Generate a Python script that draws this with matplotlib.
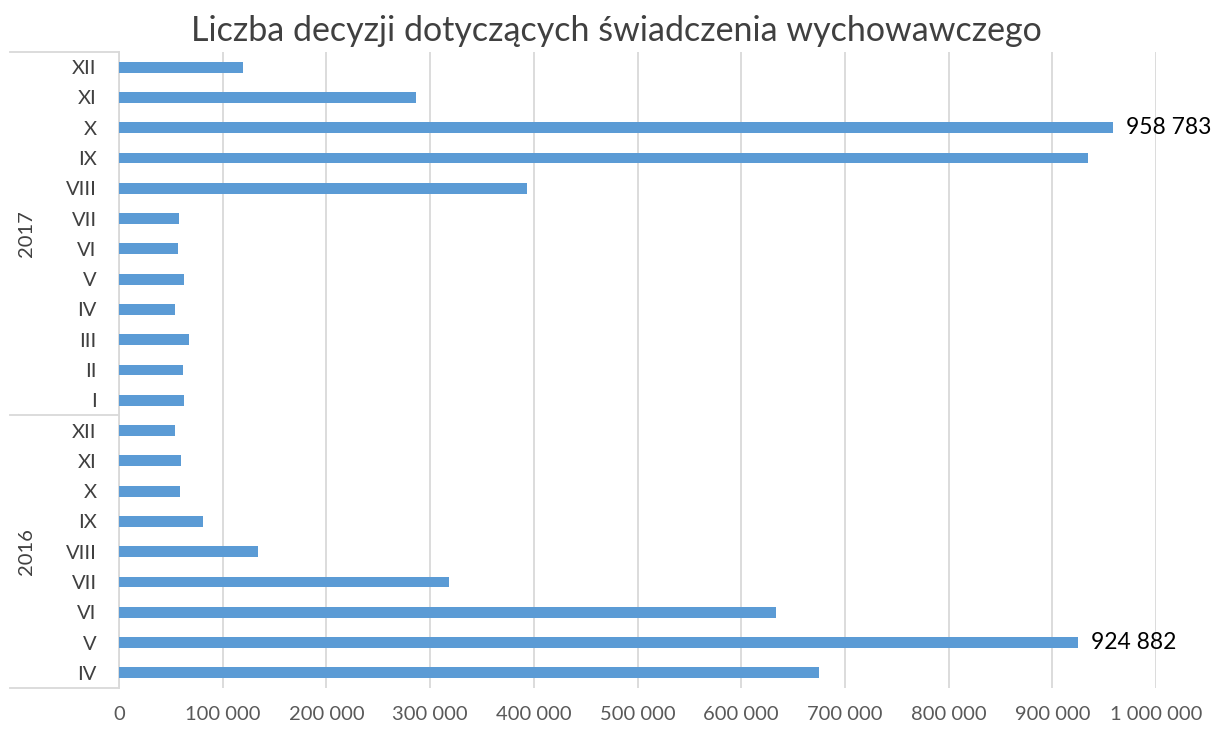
import matplotlib
matplotlib.use("Agg")
import matplotlib.pyplot as plt
import numpy as np

# months as shown, bottom to top (IV 2016 ... XII 2017)
months = ["IV", "V", "VI", "VII", "VIII", "IX", "X", "XI", "XII",
          "I", "II", "III", "IV", "V", "VI", "VII", "VIII", "IX", "X", "XI", "XII"]
years = ["2016"] * 9 + ["2017"] * 12
decisions = [675300, 924882, 633600, 318200, 134300, 81300, 58800, 59800, 54300,
             63000, 61400, 67200, 54000, 62400, 56600, 57500, 393400, 934100, 958783, 286400, 119900]
labelled = ["924 882", "958 783"]
labelled_idx = [1, 18]

plt.rcParams["font.family"] = ["Lato", "DejaVu Sans"]

fig = plt.figure(figsize=(12.13, 7.31), dpi=100)
ax = fig.add_axes([0.0981, 0.0588, 0.8550, 0.8701])

pos = np.arange(len(months))
ax.barh(pos, decisions, height=0.36, color="#5B9BD5", zorder=3)

ax.set_xlim(0, 1000000)
ax.set_ylim(-0.5, len(months) - 0.5)
xt = np.arange(0, 1000001, 100000)
ax.set_xticks(xt)
ax.set_xticklabels([f"{v:,}".replace(",", " ") for v in xt], fontsize=14.5, color="#595959")
ax.set_yticks(pos)
ax.set_yticklabels(months, fontsize=14.5, color="#404040")
ax.tick_params(axis="y", length=0, pad=16)
ax.tick_params(axis="x", length=0, pad=13)
ax.grid(axis="x", color="#d9d9d9", linewidth=1.3, zorder=0)

for s in ["top", "right", "bottom"]:
    ax.spines[s].set_visible(False)
ax.spines["left"].set_color("#d9d9d9")
ax.spines["left"].set_linewidth(1.3)

for i, txt in zip(labelled_idx, labelled):
    ax.annotate(txt, (decisions[i], pos[i]), xytext=(9, 0), textcoords="offset points",
                va="center", ha="left", fontsize=16.5, color="black")

# multi-level category separators and year labels
tr = ax.get_yaxis_transform()
xl = (10 - 119) / 1037
for yb in [-0.5, 8.5, len(months) - 0.5]:
    ax.plot([xl, 0], [yb, yb], transform=tr, color="#d9d9d9", lw=1.3, clip_on=False)
for yr in ["2016", "2017"]:
    idx = [i for i, y in enumerate(years) if y == yr]
    ax.text((27 - 119) / 1037, np.mean(idx), yr, transform=tr, rotation=90,
            ha="center", va="center", fontsize=14.5, color="#404040")

fig.text(0.508, 0.957, "Liczba decyzji dotyczących świadczenia wychowawczego",
         ha="center", va="center", fontsize=24.5, color="#404040")

fig.savefig("out.png", dpi=100)
